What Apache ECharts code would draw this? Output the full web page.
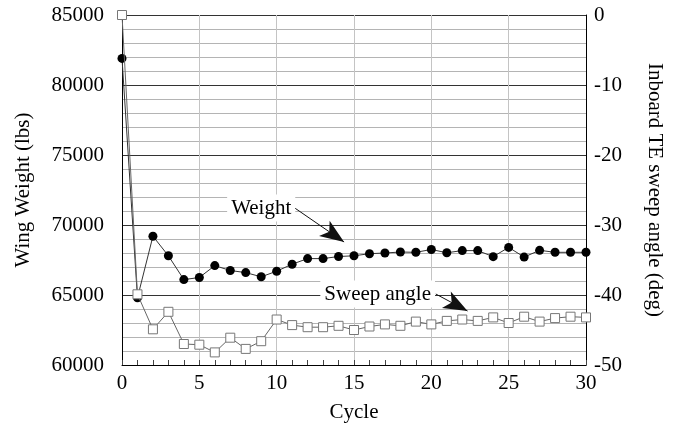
<!DOCTYPE html>
<html>
<head>
<meta charset="utf-8">
<script src="https://cdn.jsdelivr.net/npm/echarts@6/dist/echarts.min.js"></script>
<style>
  html, body { margin: 0; padding: 0; background: #fff; }
  #chart { width: 673px; height: 431px; }
</style>
</head>
<body>
<div id="chart"></div>
<script>
// cycle numbers 0..30
var cycles = [0, 1, 2, 3, 4, 5, 6, 7, 8, 9, 10, 11, 12, 13, 14, 15, 16, 17, 18, 19, 20, 21, 22, 23, 24, 25, 26, 27, 28, 29, 30];
// wing weight (lbs), left axis
var weight = [81900, 64800, 69200, 67800, 66100, 66250, 67100, 66750, 66600, 66300, 66700,
  67200, 67600, 67600, 67750, 67800, 67950, 68000, 68070, 68050, 68250,
  68020, 68170, 68170, 67740, 68400, 67710, 68190, 68050, 68050, 68050];
// inboard TE sweep angle (deg), right axis
var sweep = [0, -39.9, -44.9, -42.4, -47.0, -47.1, -48.2, -46.1, -47.7, -46.6, -43.5,
  -44.3, -44.6, -44.6, -44.4, -45.0, -44.5, -44.2, -44.4, -43.8, -44.2,
  -43.7, -43.5, -43.7, -43.2, -44.0, -43.1, -43.8, -43.3, -43.1, -43.2];

// annotation anchors, in data units
var weightNote = { text: 'Weight', at: [9.0, 71214], from: [11.17, 71214], to: [14.36, 68786] };
var sweepNote = { text: 'Sweep angle', at: [16.53, 65071], from: [20.29, -39.86], to: [22.34, -42.29] };

var FONT = 'Liberation Serif';

function pairs(xs, ys) {
  return xs.map(function (x, i) { return [x, ys[i]]; });
}

var chart = echarts.init(document.getElementById('chart'));

var arrowStyle = {
  silent: true,
  symbol: ['none', 'arrow'],
  symbolSize: [14, 24],
  label: { show: false },
  lineStyle: { color: '#111', width: 1, type: 'solid' },
  emphasis: { disabled: true }
};

chart.setOption({
  animation: false,
  backgroundColor: '#fff',
  textStyle: { fontFamily: FONT },
  grid: { left: 122, right: 80, top: 15, bottom: 66 },
  xAxis: {
    type: 'value',
    min: 0, max: 30, interval: 5,
    name: 'Cycle',
    nameLocation: 'middle',
    nameGap: 37,
    nameTextStyle: { fontFamily: FONT, fontSize: 21, color: '#000' },
    axisLine: { show: true, onZero: false, lineStyle: { color: '#000', width: 1 } },
    axisTick: { show: true, inside: true, length: 5, lineStyle: { color: '#444' } },
    minorTick: { show: true, splitNumber: 5, length: 5, lineStyle: { color: '#444' } },
    axisLabel: { fontFamily: FONT, fontSize: 21, color: '#000', margin: 8 },
    splitLine: { show: true, lineStyle: { color: '#c4c4c4', width: 1 } }
  },
  yAxis: [
    {
      type: 'value',
      min: 60000, max: 85000, interval: 5000,
      name: 'Wing Weight (lbs)',
      nameLocation: 'middle',
      nameRotate: 90,
      nameGap: 88,
      nameTextStyle: { fontFamily: FONT, fontSize: 21, color: '#000' },
      axisLine: { show: true, onZero: false, lineStyle: { color: '#000', width: 1 } },
      axisTick: { show: false },
      axisLabel: {
        fontFamily: FONT, fontSize: 21, color: '#000', margin: 18,
        formatter: function (v) { return String(v); }
      },
      splitLine: { show: true, lineStyle: { color: '#333', width: 1 } },
      minorTick: { show: false, splitNumber: 5 },
      minorSplitLine: { show: true, lineStyle: { color: '#b4b4b4', width: 1 } }
    },
    {
      type: 'value',
      position: 'right',
      min: -50, max: 0, interval: 10,
      name: 'Inboard TE sweep angle (deg)',
      nameLocation: 'middle',
      nameRotate: -90,
      nameGap: 58,
      nameTextStyle: { fontFamily: FONT, fontSize: 21, color: '#000' },
      axisLine: { show: true, onZero: false, lineStyle: { color: '#000', width: 1 } },
      axisTick: { show: false },
      axisLabel: {
        fontFamily: FONT, fontSize: 21, color: '#000', margin: 8,
        formatter: function (v) { return String(v); }
      },
      splitLine: { show: false }
    }
  ],
  series: [
    {
      name: 'Weight',
      type: 'line',
      yAxisIndex: 0,
      data: pairs(cycles, weight),
      symbol: 'circle',
      symbolSize: 9,
      lineStyle: { color: '#333', width: 1 },
      itemStyle: { color: '#000', borderWidth: 0 },
      z: 3,
      markLine: Object.assign({}, arrowStyle, {
        data: [[{ coord: weightNote.from }, { coord: weightNote.to }]]
      })
    },
    {
      name: 'Sweep angle',
      type: 'line',
      yAxisIndex: 1,
      data: pairs(cycles, sweep),
      symbol: 'rect',
      symbolSize: 9,
      lineStyle: { color: '#666', width: 1 },
      itemStyle: { color: '#fff', borderColor: '#777', borderWidth: 1 },
      z: 4,
      markLine: Object.assign({}, arrowStyle, {
        data: [[{ coord: sweepNote.from }, { coord: sweepNote.to }]]
      })
    }
  ]
});

// text notes placed from data coordinates
function noteText(note) {
  var p = chart.convertToPixel({ xAxisIndex: 0, yAxisIndex: 0 }, note.at);
  return {
    type: 'text',
    x: p[0], y: p[1],
    z: 10,
    style: {
      text: note.text,
      font: '21px "Liberation Serif"',
      fill: '#000',
      align: 'center',
      verticalAlign: 'middle',
      backgroundColor: '#fff',
      padding: [3, 4]
    }
  };
}

chart.setOption({ graphic: [noteText(weightNote), noteText(sweepNote)] });
</script>
</body>
</html>
